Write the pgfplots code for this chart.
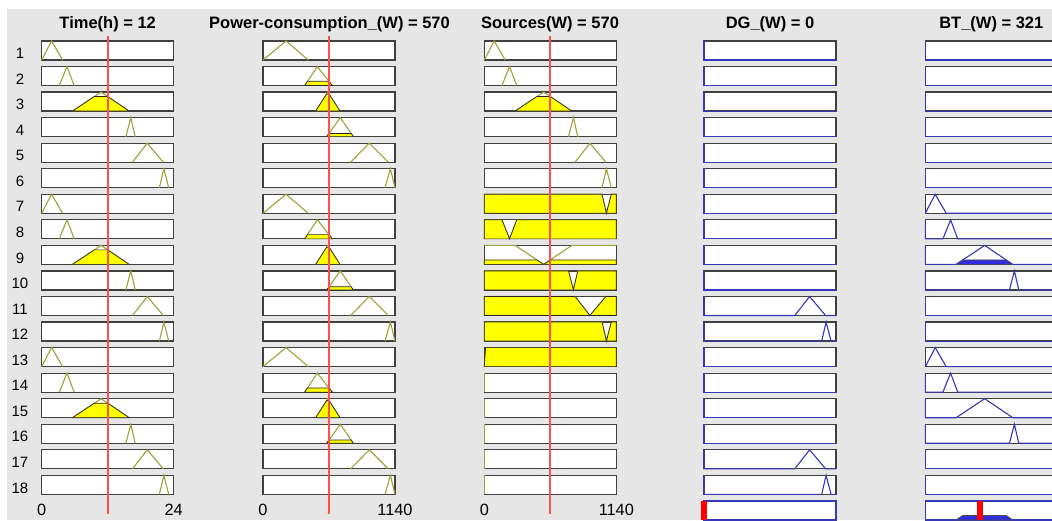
\documentclass[border=0pt]{standalone}
\usepackage{fontspec}
\setmainfont{Liberation Sans}
\usepackage{pgfplots}
\pgfplotsset{compat=1.18}

\definecolor{bg}{RGB}{230,230,230}
\definecolor{boxedge}{RGB}{64,64,64}
\definecolor{mfincol}{RGB}{160,160,60}
\definecolor{fillin}{RGB}{255,255,0}
\definecolor{mfoutcol}{RGB}{55,55,185}
\definecolor{fillout}{RGB}{45,45,225}
\definecolor{cursorred}{RGB}{255,80,80}
\definecolor{barred}{RGB}{255,0,0}

\newcommand\titlefont{\fontsize{16.5}{18}\selectfont\bfseries}
\newcommand\tickfont{\fontsize{16.3}{18}\selectfont}
\newcommand\rowfont{\fontsize{15}{17}\selectfont}

\pgfplotsset{
  mfbox/.style={scale only axis, width=132pt, height=19pt, anchor=south west,
    xmin=0, ymin=0, ymax=1, xtick=\empty, ytick=\empty, clip=false,
    axis background/.style={fill=white},
    axis line style={draw=boxedge, line width=1.2pt}},
  outbox/.style={axis line style={draw=mfoutcol, line width=1.2pt}},
  inmf/.style={draw=mfincol, line width=1.1pt},
  infill/.style={fill=fillin, draw=black!85, line width=0.7pt},
  outmf/.style={draw=mfoutcol, line width=1.1pt},
  outfill/.style={fill=fillout, draw=black!70, line width=0.7pt},
  inputline/.style={draw=cursorred, line width=1.9pt},
}

% one rule-viewer cell: [extra style]{left edge}{rule row}{range max}{plots}
\newcommand\mfbox[5][]{%
  \pgfmathsetmacro\yb{460-(#3-1)*25.55}%
  \begin{axis}[mfbox,#1, at={(#2pt,\yb pt)}, xmax=#4]
    #5
  \end{axis}}

% vertical input line and range labels of an input column:
% {left edge}{range max}{input value}
\newcommand\inputaxis[3]{%
  \begin{axis}[scale only axis, width=132pt, height=478pt, anchor=south west,
    at={(#1pt,6pt)}, xmin=0, xmax=#2, ymin=0, ymax=1, clip=false,
    axis line style={draw=none}, major tick length=0pt,
    xtick={0,#2}, xticklabels={0,#2}, ytick=\empty,
    xticklabel style={anchor=base, yshift=-1.7pt, font=\tickfont}]
    \addplot[inputline] coordinates {(#3,0) (#3,1)};
  \end{axis}}

% Time(h), range 0..24
\newcommand\Ta{\addplot[inmf] coordinates {(0,0) (1.8,1) (3.8,0)};}
\newcommand\Tb{\addplot[inmf] coordinates {(3.2,0) (4.6,1) (5.9,0)};}
\newcommand\Tc{\addplot[inmf] coordinates {(5.6,0) (10.8,1) (15.9,0)};
  \addplot[infill] coordinates {(5.6,0) (9.58,0.765) (12,0.765) (15.9,0)} \closedcycle;}
\newcommand\Td{\addplot[inmf] coordinates {(15.3,0) (16.2,1) (17.0,0)};}
\newcommand\Te{\addplot[inmf] coordinates {(16.5,0) (19.2,1) (22.1,0)};}
\newcommand\Tf{\addplot[inmf] coordinates {(21.4,0) (22.2,1) (23.1,0)};}

% Power-consumption_(W), range 0..1140
\newcommand\Pa{\addplot[inmf] coordinates {(0,0) (199,1) (391,0)};}
\newcommand\Pb{\addplot[inmf] coordinates {(360,0) (469,1) (599,0)};
  \addplot[infill] coordinates {(360,0) (384.3,0.223) (570,0.223) (599,0)} \closedcycle;}
\newcommand\Pc{\addplot[inmf] coordinates {(455,0) (560,1) (665,0)};
  \addplot[infill] coordinates {(455,0) (550,0.905) (570,0.905) (665,0)} \closedcycle;}
\newcommand\Pd{\addplot[inmf] coordinates {(550,0) (668,1) (780,0)};
  \addplot[infill] coordinates {(550,0) (570,0.169) (761,0.169) (780,0)} \closedcycle;}
\newcommand\Pe{\addplot[inmf] coordinates {(757,0) (918,1) (1082,0)};}
\newcommand\Pf{\addplot[inmf] coordinates {(1054,0) (1100,1) (1140,0)};}

% DG_(W) / BT_(W), range 0..780
\newcommand\Onone{\addplot[outmf] coordinates {(0,1) (0,0) (780,0)};}
\newcommand\Oa{\addplot[outmf] coordinates {(0,0) (58.5,1) (123.5,0) (780,0)};}
\newcommand\Ob{\addplot[outmf] coordinates {(0,1) (0,0) (104,0) (149.5,1) (191.8,0) (780,0)};}
\newcommand\Oc{\addplot[outmf] coordinates {(0,1) (0,0) (182,0) (351,1) (516.8,0) (780,0)};}
\newcommand\Od{\addplot[outmf] coordinates {(0,1) (0,0) (497.3,0) (526.5,1) (552.5,0) (780,0)};}
\newcommand\Oe{\addplot[outmf] coordinates {(0,1) (0,0) (536.3,0) (624,1) (718.3,0) (780,0)};}
\newcommand\Of{\addplot[outmf] coordinates {(0,1) (0,0) (695.5,0) (721.5,1) (750.8,0) (780,0)};}

\begin{document}
\begin{tikzpicture}[x=1pt,y=1pt]
\path[use as bounding box] (0,0) rectangle (1052,520);
\fill[white] (0,0) rectangle (1052,520);
\fill[bg] (7,0) rectangle (1052,511);
\clip (0,0) rectangle (1052,520);

% ---- Time(h)
\foreach \g in {0,6,12}{
  \mfbox{41.7}{\g+1}{24}{\Ta}
  \mfbox{41.7}{\g+2}{24}{\Tb}
  \mfbox{41.7}{\g+3}{24}{\Tc}
  \mfbox{41.7}{\g+4}{24}{\Td}
  \mfbox{41.7}{\g+5}{24}{\Te}
  \mfbox{41.7}{\g+6}{24}{\Tf}
}
% ---- Power-consumption_(W)
\foreach \g in {0,6,12}{
  \mfbox{263}{\g+1}{1140}{\Pa}
  \mfbox{263}{\g+2}{1140}{\Pb}
  \mfbox{263}{\g+3}{1140}{\Pc}
  \mfbox{263}{\g+4}{1140}{\Pd}
  \mfbox{263}{\g+5}{1140}{\Pe}
  \mfbox{263}{\g+6}{1140}{\Pf}
}
% ---- Sources(W)
\mfbox{484.3}{1}{1140}{\addplot[inmf] coordinates {(0,0) (85.5,1) (180.5,0)};}
\mfbox{484.3}{2}{1140}{\addplot[inmf] coordinates {(152,0) (218.5,1) (280.3,0)};}
\mfbox{484.3}{3}{1140}{\addplot[inmf] coordinates {(266,0) (513,1) (755.3,0)};
  \addplot[infill] coordinates {(266,0) (455,0.765) (570,0.765) (755.3,0)} \closedcycle;}
\mfbox{484.3}{4}{1140}{\addplot[inmf] coordinates {(726.8,0) (769.5,1) (807.5,0)};}
\mfbox{484.3}{5}{1140}{\addplot[inmf] coordinates {(783.8,0) (912,1) (1049.8,0)};}
\mfbox{484.3}{6}{1140}{\addplot[inmf] coordinates {(1016.5,0) (1054.5,1) (1097.3,0)};}
\mfbox{484.3}{7}{1140}{\addplot[inmf] coordinates {(0,1) (1016.5,1) (1054.5,0) (1097.3,1) (1140,1)};
  \addplot[infill] coordinates {(0,0) (0,1) (1016.5,1) (1054.5,0) (1097.3,1) (1140,1) (1140,0)} \closedcycle;}
\mfbox{484.3}{8}{1140}{\addplot[inmf] coordinates {(0,1) (152,1) (218.5,0) (280.3,1) (1140,1)};
  \addplot[infill] coordinates {(0,0) (0,1) (152,1) (218.5,0) (280.3,1) (1140,1) (1140,0)} \closedcycle;}
\mfbox{484.3}{9}{1140}{\addplot[inmf] coordinates {(0,1) (266,1) (513,0) (755.3,1) (1140,1)};
  \addplot[infill] coordinates {(0,0) (0,0.235) (455,0.235) (513,0) (570,0.235) (1140,0.235) (1140,0)} \closedcycle;}
\mfbox{484.3}{10}{1140}{\addplot[inmf] coordinates {(0,1) (726.8,1) (769.5,0) (807.5,1) (1140,1)};
  \addplot[infill] coordinates {(0,0) (0,1) (726.8,1) (769.5,0) (807.5,1) (1140,1) (1140,0)} \closedcycle;}
\mfbox{484.3}{11}{1140}{\addplot[inmf] coordinates {(0,1) (783.8,1) (912,0) (1049.8,1) (1140,1)};
  \addplot[infill] coordinates {(0,0) (0,1) (783.8,1) (912,0) (1049.8,1) (1140,1) (1140,0)} \closedcycle;}
\mfbox{484.3}{12}{1140}{\addplot[inmf] coordinates {(0,1) (1016.5,1) (1054.5,0) (1097.3,1) (1140,1)};
  \addplot[infill] coordinates {(0,0) (0,1) (1016.5,1) (1054.5,0) (1097.3,1) (1140,1) (1140,0)} \closedcycle;}
\mfbox{484.3}{13}{1140}{\addplot[infill] coordinates {(0,0) (11,1) (1140,1) (1140,0)} \closedcycle;}
\foreach \r in {14,...,18}{
  \mfbox{484.3}{\r}{1140}{\addplot[inmf] coordinates {(0,0) (0,1)};}
}

% ---- DG_(W)
\foreach \r in {1,...,10,13,14,15,16}{
  \mfbox{704}{\r}{780}{\Onone}
}
\mfbox{704}{11}{780}{\Oe}
\mfbox{704}{12}{780}{\Of}
\mfbox{704}{17}{780}{\Oe}
\mfbox{704}{18}{780}{\Of}
\mfbox[outbox]{704}{19}{780}{\addplot[draw=barred, line width=6pt] coordinates {(0,0) (0,1)};}

% ---- BT_(W)
\foreach \r in {1,...,6,11,12,17,18}{
  \mfbox{925.3}{\r}{780}{\Onone}
}
\mfbox{925.3}{7}{780}{\Oa}
\mfbox{925.3}{8}{780}{\Ob}
\mfbox{925.3}{9}{780}{\Oc
  \addplot[outfill] coordinates {(182,0) (221.7,0.235) (477.8,0.235) (516.8,0)} \closedcycle;}
\mfbox{925.3}{10}{780}{\Od}
\mfbox{925.3}{13}{780}{\Oa}
\mfbox{925.3}{14}{780}{\Ob}
\mfbox{925.3}{15}{780}{\Oc}
\mfbox{925.3}{16}{780}{\Od}
\mfbox[outbox]{925.3}{19}{780}{%
  \addplot[outfill] coordinates {(182,0) (221.7,0.235) (477.8,0.235) (516.8,0)} \closedcycle;
  \addplot[draw=barred, line width=6pt] coordinates {(321,0) (321,1)};}

% ---- input values
\inputaxis{41.7}{24}{12}
\inputaxis{263}{1140}{570}
\inputaxis{484.3}{1140}{570}

% ---- rule numbers and variable titles
\foreach \r in {1,...,18}{
  \node[anchor=base, font=\rowfont, inner sep=0pt] at (20,{461.3-(\r-1)*25.55}) {\r};
}
\node[anchor=base, font=\titlefont, inner sep=0pt] at (107.7,491) {Time(h) = 12};
\node[anchor=base, font=\titlefont, inner sep=0pt] at (329.5,491) {Power-consumption\_(W) = 570};
\node[anchor=base, font=\titlefont, inner sep=0pt] at (550,491) {Sources(W) = 570};
\node[anchor=base, font=\titlefont, inner sep=0pt] at (770,491) {DG\_(W) = 0};
\node[anchor=base, font=\titlefont, inner sep=0pt] at (991.3,491) {BT\_(W) = 321};
\end{tikzpicture}
\end{document}
